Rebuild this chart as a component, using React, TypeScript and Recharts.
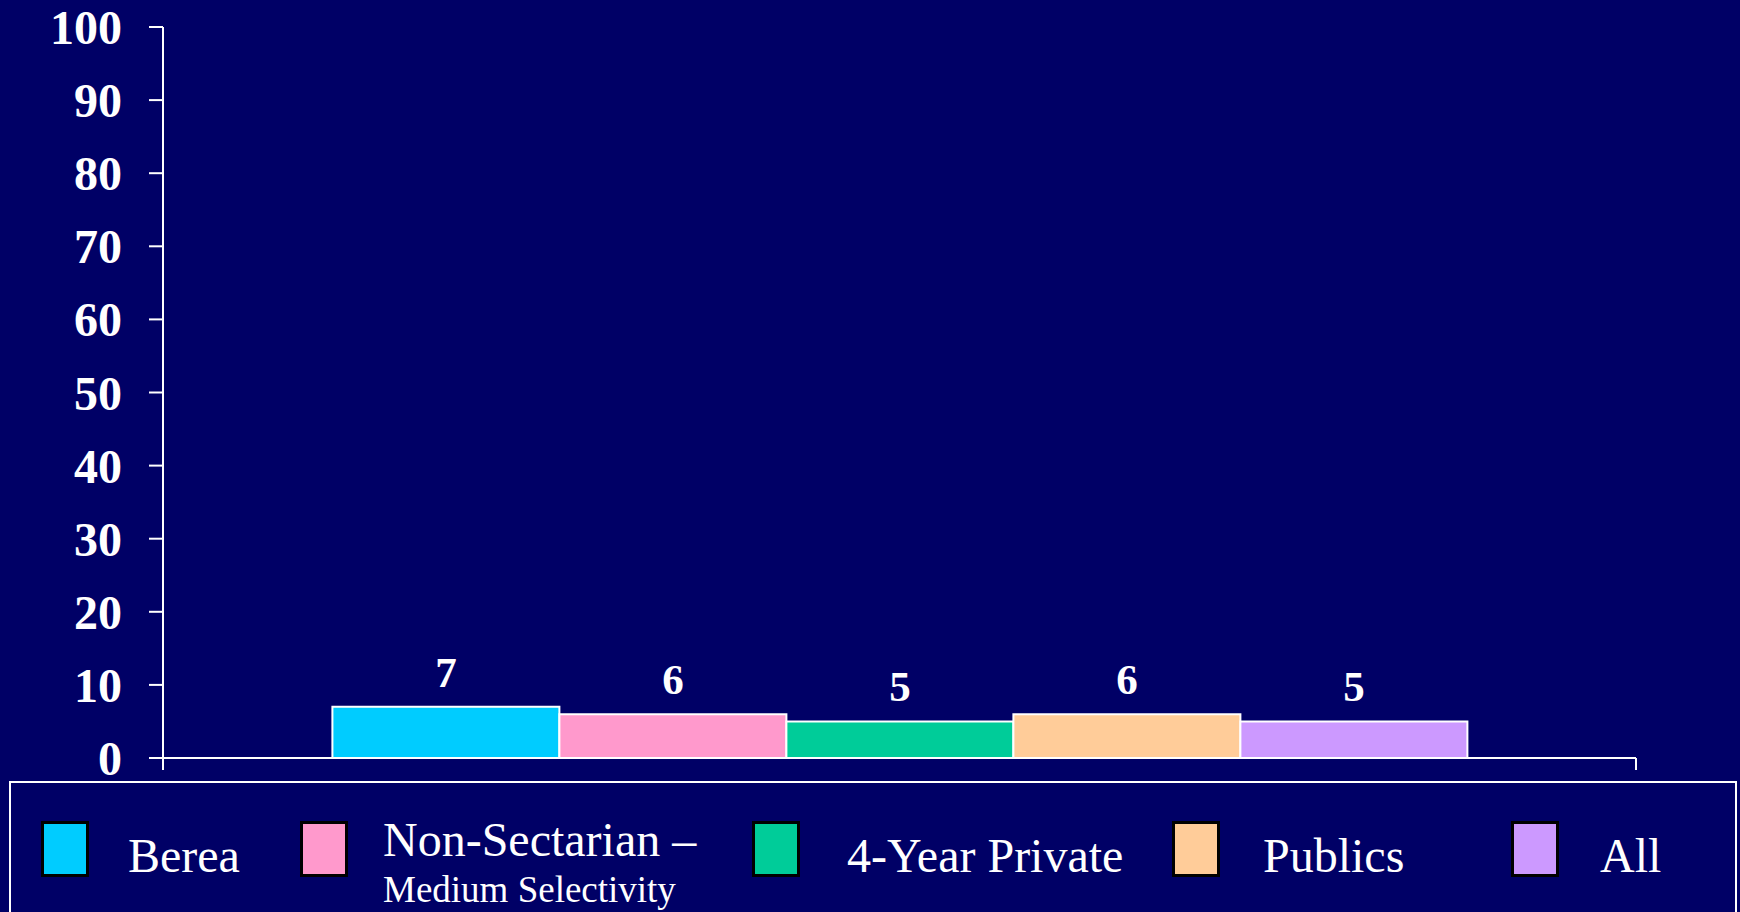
import React from "react";
import { BarChart, Bar, XAxis, YAxis, LabelList } from "recharts";

const seriesKeys = ["berea", "nonsect", "priv4", "publics", "all"];
const seriesNames = ["Berea", "Non-Sectarian –", "4-Year Private", "Publics", "All"];
const seriesSubNames = ["", "Medium Selectivity", "", "", ""];
const seriesValues = [7, 6, 5, 6, 5];
const seriesColors = ["#00CCFF", "#FF99CC", "#00CC99", "#FFCC99", "#CC99FF"];
const categories = [""];
const yTicks = [0, 10, 20, 30, 40, 50, 60, 70, 80, 90, 100];

const data = categories.map((c) => {
  const row: Record<string, string | number> = { group: c };
  seriesKeys.forEach((k, i) => {
    row[k] = seriesValues[i];
  });
  return row;
});

// legend layout (styles only)
const legendSwatchX = [41, 300, 752, 1172, 1511];
const legendTextX = [128, 383, 847, 1263, 1600];

const FONT = '"Liberation Serif", "Times New Roman", serif';
const BG = "#000066";
const X_TICK = 12;

// draws tick marks at the two edges of each category band
const EdgeTicks = (props: any) => {
  const { y, payload, width, visibleTicksCount } = props;
  const cx = payload?.coordinate ?? props.x;
  const half =
    payload && payload.offset > 0 ? payload.offset : width / (2 * (visibleTicksCount || 1));
  const top = y - X_TICK;
  return (
    <g>
      <line x1={cx - half} x2={cx - half} y1={top} y2={y} stroke="#FFFFFF" strokeWidth={2} />
      <line x1={cx + half} x2={cx + half} y1={top} y2={y} stroke="#FFFFFF" strokeWidth={2} />
    </g>
  );
};

export default function App() {
  return (
    <div
      style={{
        position: "absolute",
        left: 0,
        top: 0,
        width: 1740,
        height: 912,
        background: BG,
        overflow: "hidden",
        fontFamily: FONT,
      }}
    >
      <BarChart
        width={1740}
        height={912}
        data={data}
        margin={{ top: 27, right: 104, left: 63, bottom: 134 }}
        barCategoryGap="11.5%"
        barGap={0}
      >
        <XAxis
          dataKey="group"
          height={20}
          tick={EdgeTicks}
          tickSize={X_TICK}
          tickMargin={0}
          tickLine={false}
          axisLine={{ stroke: "#FFFFFF", strokeWidth: 2 }}
        />
        <YAxis
          width={100}
          domain={[0, 100]}
          ticks={yTicks}
          interval={0}
          tickSize={14}
          tickMargin={27}
          axisLine={{ stroke: "#FFFFFF", strokeWidth: 2 }}
          tickLine={{ stroke: "#FFFFFF", strokeWidth: 2 }}
          tick={{ fill: "#FFFFFF", fontSize: 48, fontWeight: "bold", fontFamily: FONT }}
        />
        {seriesKeys.map((k, i) => (
          <Bar
            key={k}
            dataKey={k}
            name={seriesNames[i]}
            fill={seriesColors[i]}
            stroke="#FFFFFF"
            strokeWidth={2}
            isAnimationActive={false}
          >
            <LabelList
              dataKey={k}
              position="top"
              offset={20}
              fill="#FFFFFF"
              style={{ fontSize: 43, fontWeight: "bold", fontFamily: FONT, fill: "#FFFFFF" }}
            />
          </Bar>
        ))}
      </BarChart>
      <div
        style={{
          position: "absolute",
          left: 9,
          top: 781,
          width: 1728,
          height: 160,
          border: "2px solid #FFFFFF",
          boxSizing: "border-box",
        }}
      />
      {seriesNames.map((n, i) => (
        <React.Fragment key={n}>
          <div
            style={{
              position: "absolute",
              left: legendSwatchX[i],
              top: 821,
              width: 48,
              height: 56,
              background: seriesColors[i],
              border: "3px solid #000000",
              boxSizing: "border-box",
            }}
          />
          {seriesSubNames[i] ? (
            <>
              <div
                style={{
                  position: "absolute",
                  left: legendTextX[i],
                  top: 812,
                  color: "#FFFFFF",
                  fontSize: 48,
                  lineHeight: "56px",
                  whiteSpace: "nowrap",
                }}
              >
                {n}
              </div>
              <div
                style={{
                  position: "absolute",
                  left: legendTextX[i],
                  top: 868,
                  color: "#FFFFFF",
                  fontSize: 37,
                  lineHeight: "44px",
                  whiteSpace: "nowrap",
                }}
              >
                {seriesSubNames[i]}
              </div>
            </>
          ) : (
            <div
              style={{
                position: "absolute",
                left: legendTextX[i],
                top: 828,
                color: "#FFFFFF",
                fontSize: 48,
                lineHeight: "56px",
                whiteSpace: "nowrap",
              }}
            >
              {n}
            </div>
          )}
        </React.Fragment>
      ))}
    </div>
  );
}
